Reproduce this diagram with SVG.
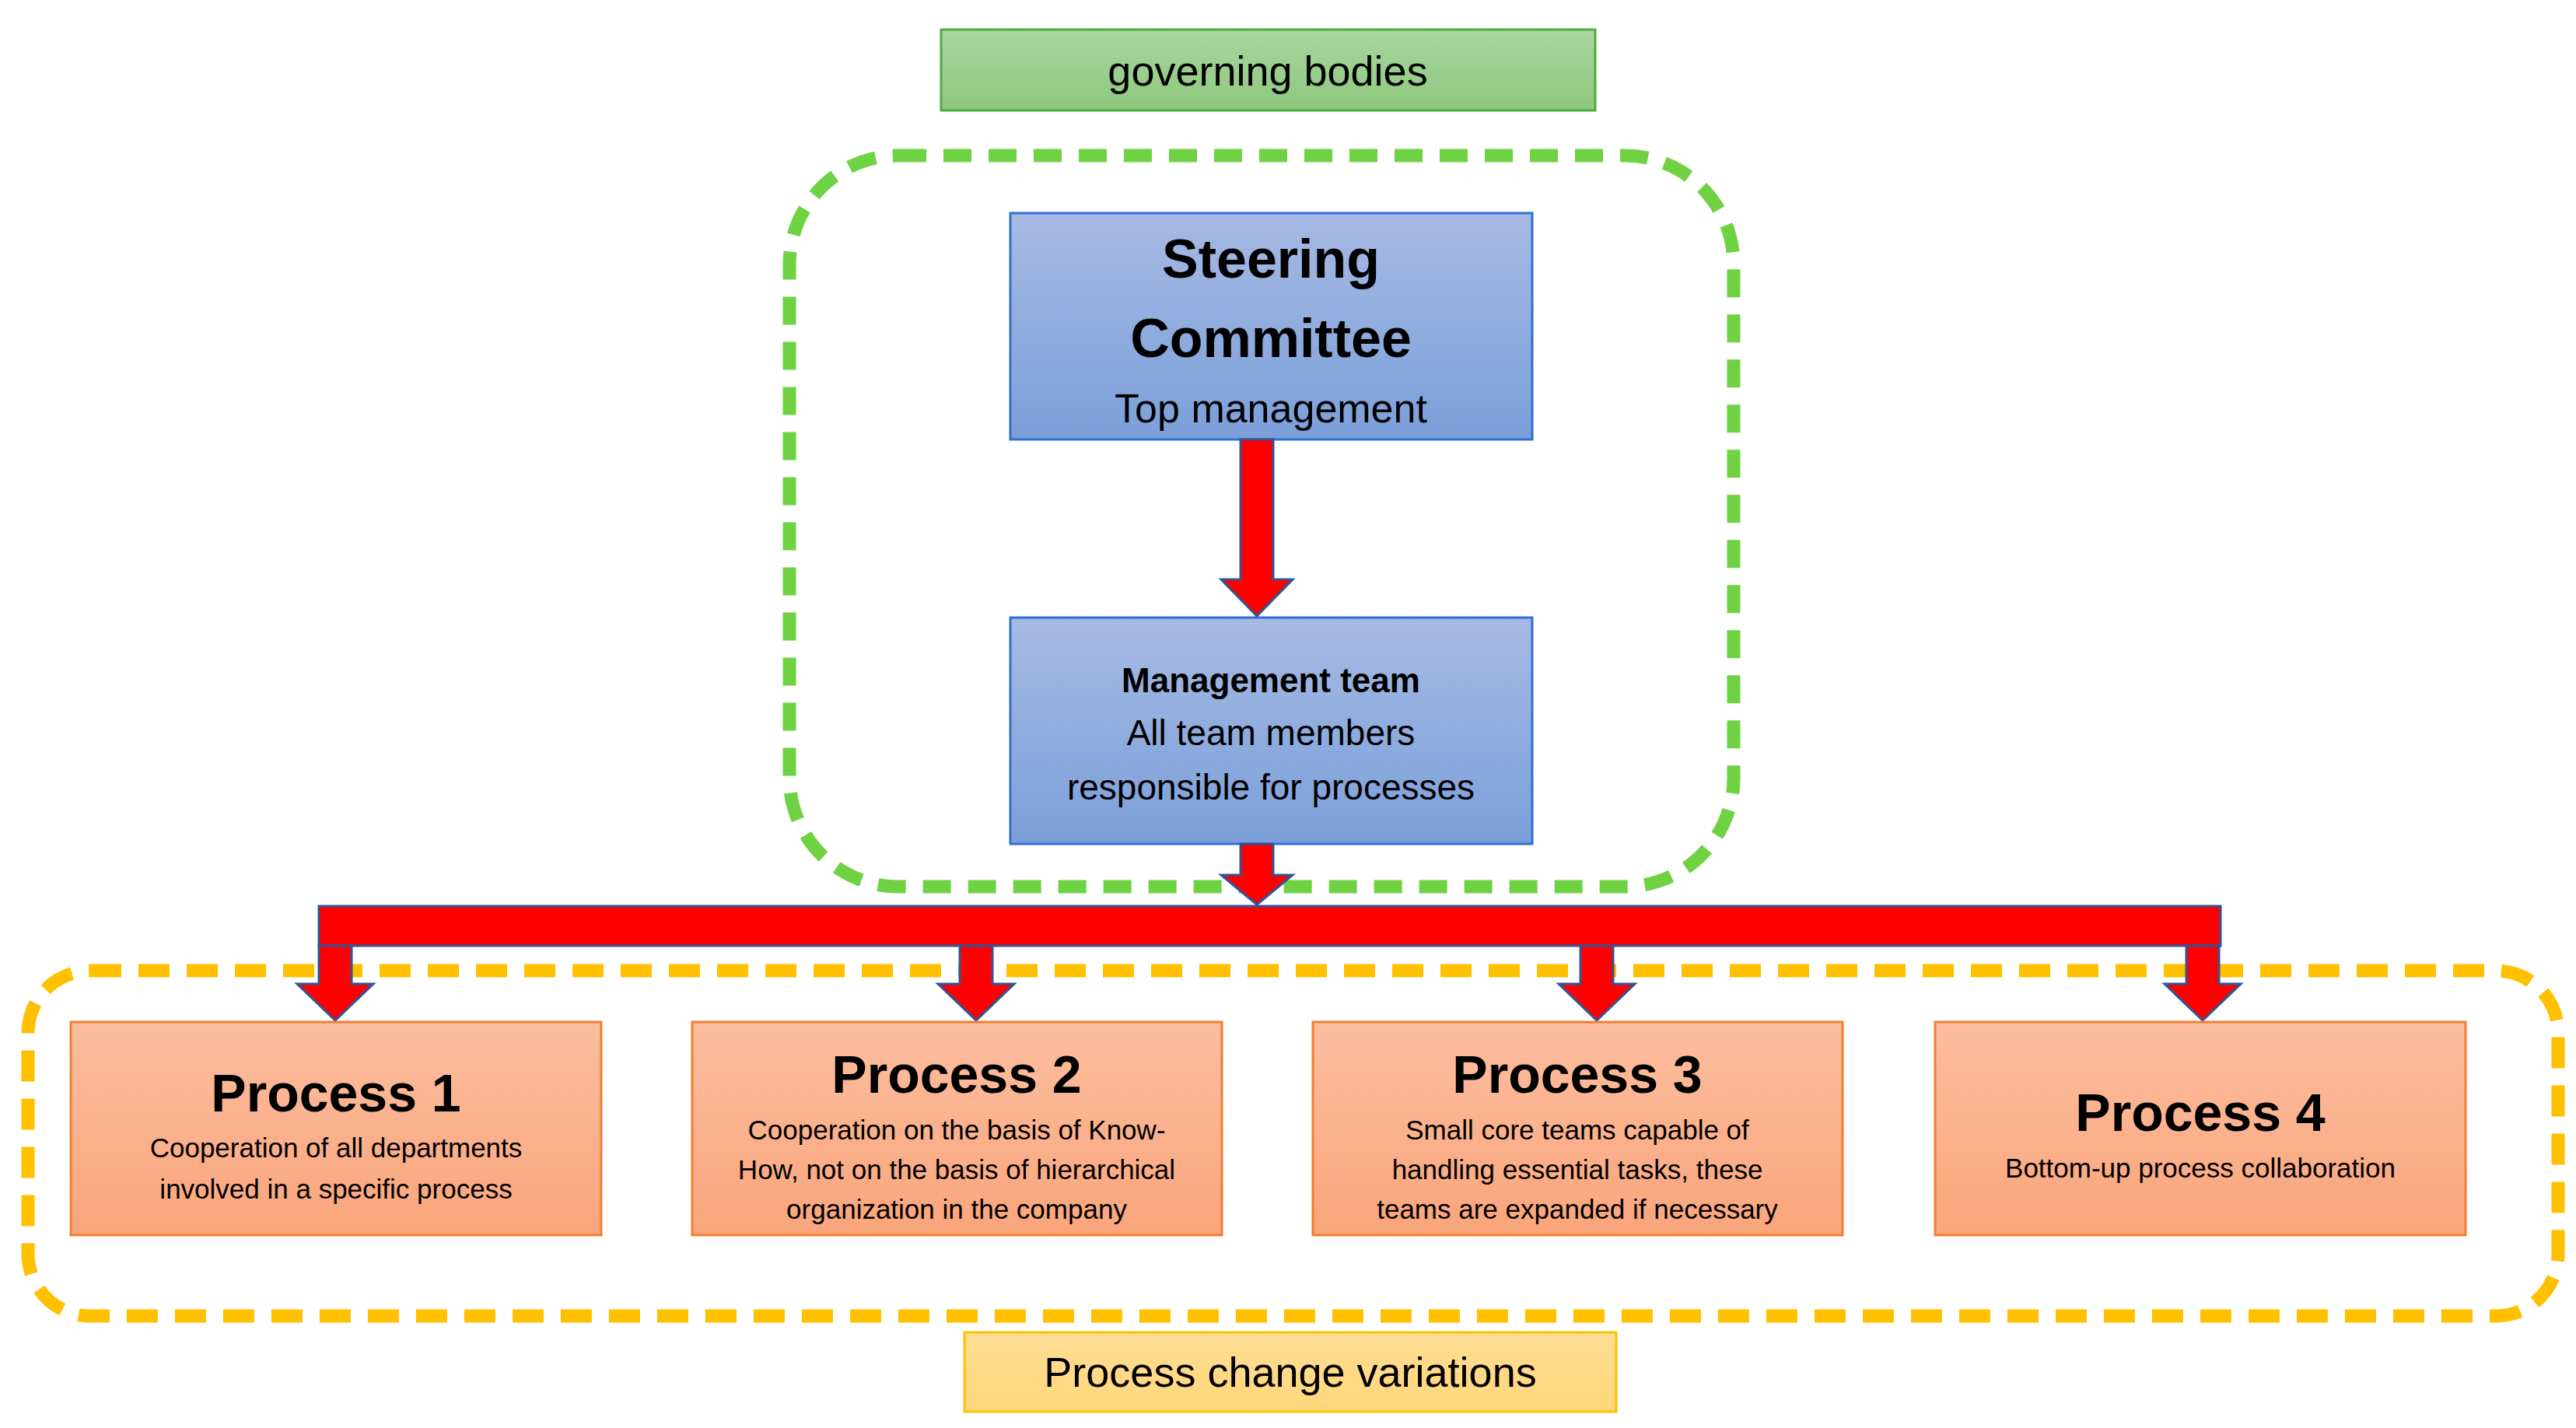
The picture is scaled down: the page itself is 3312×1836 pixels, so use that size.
<svg xmlns="http://www.w3.org/2000/svg" width="3312" height="1836" viewBox="0 0 3312 1836">
<defs>
<linearGradient id="gG" x1="0" y1="0" x2="0" y2="1"><stop offset="0" stop-color="#aad5a0"/><stop offset="1" stop-color="#8cc87c"/></linearGradient>
<linearGradient id="gB" x1="0" y1="0" x2="0" y2="1"><stop offset="0" stop-color="#a6bae3"/><stop offset="1" stop-color="#7b9fda"/></linearGradient>
<linearGradient id="gO" x1="0" y1="0" x2="0" y2="1"><stop offset="0" stop-color="#fcbea0"/><stop offset="1" stop-color="#faa57b"/></linearGradient>
<linearGradient id="gY" x1="0" y1="0" x2="0" y2="1"><stop offset="0" stop-color="#ffdd95"/><stop offset="1" stop-color="#ffd67a"/></linearGradient>
</defs>
<style>
text{font-family:"Liberation Sans",Arial,sans-serif;fill:#000;text-anchor:middle}
.b{font-weight:bold}
.arr{fill:#ff0000;stroke:#2f5597;stroke-width:3}
.pb{fill:url(#gO);stroke:#f57c30;stroke-width:3}
.mb{fill:url(#gB);stroke:#2f6fd6;stroke-width:3}
</style>
<rect width="3312" height="1836" fill="#fff"/>
<g id="green-frame"><rect x="1015" y="200" width="1214" height="940" rx="140" fill="none" stroke="#6fd243" stroke-width="17" stroke-dasharray="36 22"/></g>
<g id="yellow-frame"><rect x="36" y="1248" width="3253" height="444" rx="80" fill="none" stroke="#ffc000" stroke-width="17" stroke-dasharray="40 22"/></g>
<g id="governing"><rect x="1210" y="38" width="841" height="104" fill="url(#gG)" stroke="#4cae3c" stroke-width="3"/><text x="1630" y="110" font-size="54">governing bodies</text></g>
<g id="steering"><rect class="mb" x="1299" y="274" width="671" height="291"/>
<text class="b" x="1634" y="357" font-size="70">Steering</text><text class="b" x="1634" y="459" font-size="70">Committee</text><text x="1634" y="543" font-size="52">Top management</text></g>
<g id="management"><rect class="mb" x="1299" y="794" width="671" height="291"/>
<text class="b" x="1634" y="890" font-size="44">Management team</text><text x="1634" y="958" font-size="46">All team members</text><text x="1634" y="1028" font-size="46">responsible for processes</text></g>
<g id="connectors">
<polygon class="arr" points="1595,565 1637,565 1637,745 1662,745 1616,792 1570,745 1595,745"/>
<polygon class="arr" points="1595,1085 1637,1085 1637,1125 1662,1125 1616,1163 1570,1125 1595,1125"/>
<rect class="arr" x="410" y="1165" width="2445" height="51"/>
<polygon class="arr" points="410,1216 452,1216 452,1265 480,1265 431,1312 382,1265 410,1265"/>
<polygon class="arr" points="1234,1216 1276,1216 1276,1265 1304,1265 1255,1312 1206,1265 1234,1265"/>
<polygon class="arr" points="2032,1216 2074,1216 2074,1265 2102,1265 2053,1312 2004,1265 2032,1265"/>
<polygon class="arr" points="2811,1216 2853,1216 2853,1265 2881,1265 2832,1312 2783,1265 2811,1265"/>
</g>
<g id="process1"><rect class="pb" x="91" y="1314" width="682" height="274"/><text class="b" x="432" y="1429" font-size="68">Process 1</text><text x="432" y="1488" font-size="35">Cooperation of all departments</text><text x="432" y="1541" font-size="35">involved in a specific process</text></g>
<g id="process2"><rect class="pb" x="890" y="1314" width="681" height="274"/><text class="b" x="1230" y="1405" font-size="68">Process 2</text><text x="1230" y="1465" font-size="35">Cooperation on the basis of Know-</text><text x="1230" y="1516" font-size="35">How, not on the basis of hierarchical</text><text x="1230" y="1567" font-size="35">organization in the company</text></g>
<g id="process3"><rect class="pb" x="1688" y="1314" width="681" height="274"/><text class="b" x="2028" y="1405" font-size="68">Process 3</text><text x="2028" y="1465" font-size="35">Small core teams capable of</text><text x="2028" y="1516" font-size="35">handling essential tasks, these</text><text x="2028" y="1567" font-size="35">teams are expanded if necessary</text></g>
<g id="process4"><rect class="pb" x="2488" y="1314" width="682" height="274"/><text class="b" x="2829" y="1454" font-size="68">Process 4</text><text x="2829" y="1514" font-size="35">Bottom-up process collaboration</text></g>
<g id="variations"><rect x="1240" y="1713" width="838" height="102" fill="url(#gY)" stroke="#ffc000" stroke-width="3"/><text x="1659" y="1783" font-size="54">Process change variations</text></g>
</svg>
